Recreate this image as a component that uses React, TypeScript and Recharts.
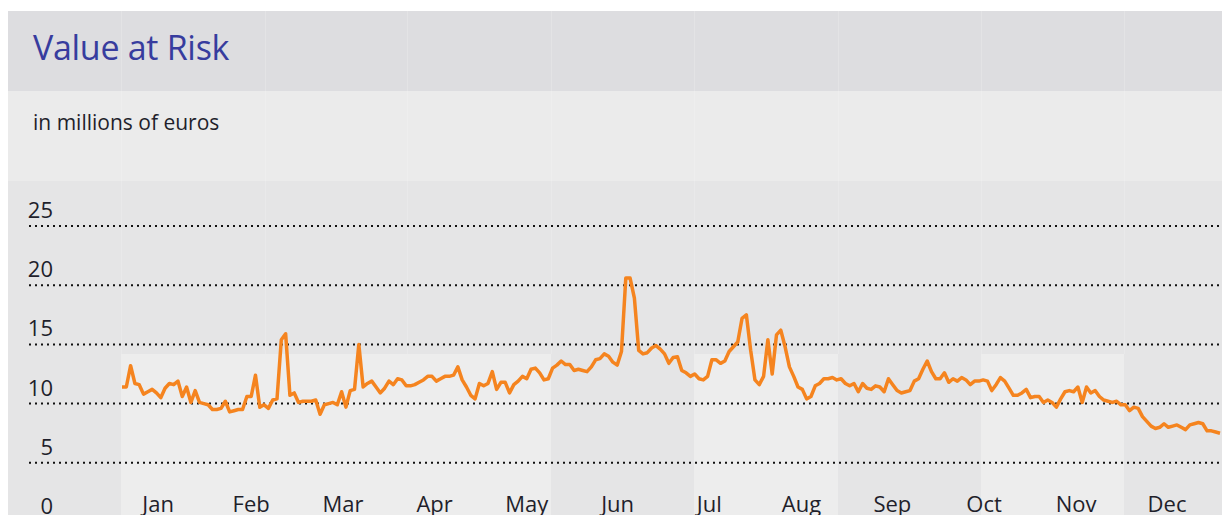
import { LineChart, Line, XAxis, YAxis, CartesianGrid } from "recharts";

// daily value at risk, in millions of euros
const VAR_VALUES = [
  11.4, 11.4, 13.2, 11.7, 11.6, 10.8, 11.0, 11.2, 10.9, 10.5, 11.3, 11.7, 11.6, 11.9, 10.6, 11.4, 10.1,
  11.1, 10.1, 10.0, 9.9, 9.5, 9.5, 9.6, 10.2, 9.3, 9.4, 9.5, 9.5, 10.6, 10.6, 12.4, 9.7,
  9.9, 9.6, 10.3, 10.4, 15.4, 15.9, 10.7, 10.9, 10.1, 10.2, 10.2, 10.2, 10.3, 9.1, 9.9, 10.0, 10.1,
  9.9, 11.0, 9.7, 11.1, 11.2, 15.0, 11.4, 11.7, 11.9, 11.4, 10.9, 11.3, 11.9, 11.6,
  12.1, 12.0, 11.5, 11.5, 11.6, 11.8, 12.0, 12.3, 12.3, 11.9, 12.1, 12.3, 12.3, 12.4, 13.1, 12.0,
  11.4, 10.7, 10.4, 11.7, 11.5, 11.7, 12.7, 11.2, 11.8, 11.8, 10.9, 11.6, 11.9, 12.3, 12.1, 12.9,
  13.0, 12.6, 12.0, 12.1, 13.0, 13.25, 13.6, 13.3, 13.3, 12.8, 12.9, 12.8, 12.7, 13.1, 13.7, 13.8,
  14.2, 14.0, 13.5, 13.25, 14.4, 20.6, 20.6, 18.9, 14.5, 14.2, 14.3, 14.7, 14.9, 14.6, 14.2, 13.4, 13.9,
  13.95, 12.8, 12.6, 12.3, 12.5, 12.1, 12.0, 12.3, 13.7, 13.7, 13.4, 13.6, 14.4, 14.8, 15.2, 17.2,
  17.5, 14.5, 12.0, 11.6, 12.3, 15.4, 12.5, 15.8, 16.2, 14.8, 13.1, 12.3, 11.4, 11.2, 10.4, 10.6, 11.5,
  11.7, 12.1, 12.1, 12.2, 12.0, 12.1, 11.7, 11.5, 11.7, 11.0, 11.7, 11.3, 11.2, 11.5, 11.4, 11.0,
  12.1, 11.6, 11.1, 10.9, 11.0, 11.1, 11.9, 12.1, 12.9, 13.6, 12.7, 12.1, 12.1, 12.6, 11.8, 12.1, 11.9,
  12.2, 12.0, 11.6, 11.9, 11.9, 12.0, 11.9, 11.1, 11.6, 12.2, 11.9, 11.3, 10.7, 10.7, 10.9, 11.2,
  10.5, 10.6, 10.6, 10.1, 10.3, 10.1, 9.7, 10.4, 11.0, 11.1, 11.0, 11.4, 10.1,
  11.4, 10.9, 11.1, 10.6, 10.3, 10.2, 10.1, 10.2, 9.9, 9.9, 9.4, 9.7, 9.6, 8.9, 8.5, 8.1,
  7.9, 8.0, 8.3, 8.0, 8.1, 8.2, 8.0, 7.8, 8.2, 8.3, 8.4, 8.3, 7.7, 7.7, 7.6, 7.5,
];

const MONTH_LABELS = ["Jan", "Feb", "Mar", "Apr", "May", "Jun", "Jul", "Aug", "Sep", "Oct", "Nov", "Dec"];
// trading-day position of each month label
const MONTH_TICKS = [8.4, 30, 51.3, 72.6, 94, 115.1, 136.4, 157.8, 178.9, 200.2, 221.6, 242.7];
const Y_TICKS = [0, 5, 10, 15, 20, 25];

const data = VAR_VALUES.map((value, day) => ({ day, value }));

const FONT = "'Open Sans', 'Noto Sans', sans-serif";
const TEXT = "#1f1f2b";

// table columns of the background layout
const COLUMN_EDGES = [121, 265, 407, 551, 694, 838, 981, 1124];
const LIGHT_COLUMNS = [
  [121, 551],
  [694, 838],
  [981, 1124],
];

const MonthTick = (props: any) => {
  const { x, y, payload } = props;
  const i = MONTH_TICKS.indexOf(payload.value);
  return (
    <text x={x} y={y - 10} textAnchor="middle" fontFamily={FONT} fontSize={22} fill={TEXT}>
      {MONTH_LABELS[i]}
    </text>
  );
};

const ValueTick = (props: any) => {
  const { y, payload } = props;
  return (
    <text x={45} y={y - 8} textAnchor="end" fontFamily={FONT} fontSize={22} fill={TEXT}>
      {payload.value}
    </text>
  );
};

export default function App() {
  return (
    <div
      style={{
        position: "absolute",
        left: 0,
        top: 0,
        width: 1222,
        height: 515,
        overflow: "hidden",
        background: "#fff",
      }}
    >
      <div style={{ position: "absolute", left: 8, top: 11, width: 1240, height: 80, background: "#dddde0" }} />
      <div style={{ position: "absolute", left: 8, top: 91, width: 1240, height: 90, background: "#ebebeb" }} />
      <div style={{ position: "absolute", left: 8, top: 181, width: 1240, height: 340, background: "#e5e5e6" }} />
      {LIGHT_COLUMNS.map(([a, b]) => (
        <div
          key={a}
          style={{ position: "absolute", left: a, top: 354, width: b - a, height: 170, background: "#ededed" }}
        />
      ))}
      {COLUMN_EDGES.map((x) => (
        <div
          key={x}
          style={{ position: "absolute", left: x, top: 11, width: 1, height: 343, background: "rgba(255,255,255,0.18)" }}
        />
      ))}
      <div
        style={{
          position: "absolute",
          left: 33,
          top: 24,
          fontFamily: FONT,
          fontSize: 34,
          color: "#373c9e",
          whiteSpace: "nowrap",
          letterSpacing: -0.3,
        }}
      >
        Value at Risk
      </div>
      <div
        style={{
          position: "absolute",
          left: 33,
          top: 108,
          fontFamily: FONT,
          fontSize: 21,
          color: TEXT,
          whiteSpace: "nowrap",
        }}
      >
        in millions of euros
      </div>
      <div style={{ position: "absolute", left: 8, top: 181 }}>
        <LineChart width={1240} height={400} data={data} margin={{ top: 45, right: 28, bottom: 29, left: 0 }}>
          <CartesianGrid
            vertical={false}
            stroke="#111"
            strokeWidth={2}
            strokeDasharray="2 4"
          />
          <XAxis
            dataKey="day"
            type="number"
            domain={[0, VAR_VALUES.length - 1]}
            ticks={MONTH_TICKS}
            padding={{ left: 93, right: 0 }}
            axisLine={false}
            tickLine={false}
            tickSize={0}
            tickMargin={0}
            height={30}
            tick={<MonthTick />}
            interval={0}
          />
          <YAxis
            domain={[0, 25]}
            ticks={Y_TICKS}
            width={21}
            axisLine={false}
            tickLine={false}
            tick={<ValueTick />}
            interval={0}
          />
          <Line
            dataKey="value"
            type="linear"
            stroke="#f5841f"
            strokeWidth={3.5}
            strokeLinejoin="round"
            dot={false}
            isAnimationActive={false}
          />
        </LineChart>
      </div>
    </div>
  );
}
